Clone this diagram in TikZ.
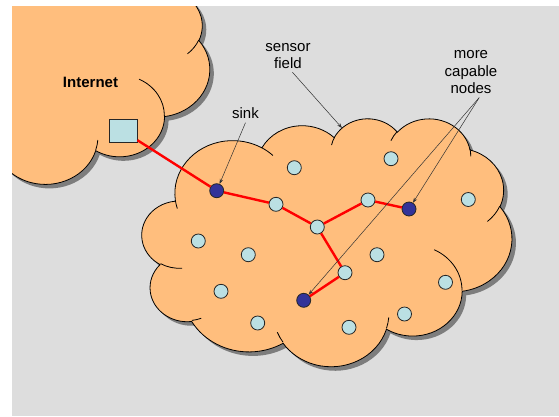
\documentclass[tikz,border=0pt]{standalone}
\usepackage{fontspec}
\setmainfont{Liberation Sans}
\usetikzlibrary{shapes,arrows.meta,positioning}
\definecolor{bggray}{RGB}{221,221,221}
\definecolor{cloudfill}{RGB}{255,190,125}
\definecolor{nodefill}{RGB}{187,224,227}
\definecolor{capfill}{RGB}{51,51,153}
\definecolor{shadowgray}{RGB}{125,125,125}
\tikzstyle{sensor} = [draw=black!85,circle,fill=nodefill,inner sep=0,minimum size=14pt,line width=0.8pt]
\tikzstyle{capable} = [sensor,fill=capfill]
\tikzstyle{gateway} = [draw=black!85,rectangle,fill=nodefill,inner sep=0,minimum width=28pt,minimum height=23pt,line width=0.8pt]
\tikzstyle{route} = [-,red,line width=2.4pt]
\tikzstyle{callout} = [-{Stealth[length=5pt,width=3.5pt]},line width=0.5pt,black!80]
\tikzstyle{note} = [font=\fontsize{15}{17.5}\selectfont,align=center]
\tikzstyle{cloud body} = [fill=cloudfill,draw=black,line width=0.8pt]
\tikzstyle{cloud shadow} = [fill=shadowgray,shift={(4pt,-4pt)}]

% one arc of the cloud outline, angles as seen on the page
\newcommand{\oarc}[4]{arc[start angle={atan2((#1)*sin(#3),(#2)*cos(#3))},
  delta angle={mod(atan2((#1)*sin((#3)+(#4)),(#2)*cos((#3)+(#4)))-atan2((#1)*sin(#3),(#2)*cos(#3))+720,360)},
  x radius=#1,y radius=#2]}
\newcommand{\cloudoutline}{(3900,14370)
  \oarc{6753}{9190}{-190.48748}{123.78053}
  \oarc{5333}{7267}{-144.10238}{89.94523}
  \oarc{4365}{5945}{-145.80792}{99.72302}
  \oarc{4857}{6595}{-130.98607}{117.24173}
  \oarc{5333}{7273}{-78.70888}{109.02692}
  \oarc{6775}{9220}{-46.26725}{130.269}
  \oarc{5785}{7867}{0.62502}{114.03333}
  \oarc{6752}{9215}{22.4516}{115.17255}
  \oarc{7720}{10543}{66.24263}{75.71102}
  \oarc{4360}{5918}{-274.94208}{146.73557}
  \oarc{4345}{5945}{-246.8285}{152.51885} -- cycle}
\newcommand{\cloudstubs}{
  (4693,26177) \oarc{4345}{5945}{86.742}{26.4295}
  (6928,34899) \oarc{4360}{5918}{73.61047}{11.44747}
  (16478,39090) \oarc{6752}{9215}{137.62415}{14.0811}
  (28827,34751) \oarc{6752}{9215}{6.45327}{15.99835}
  (34129,22954) \oarc{5785}{7867}{-70.29235}{70.91737}
  (41798,15354) \oarc{5333}{7273}{30.31803}{27.7515}
  (38324,5426) \oarc{4857}{6595}{-13.74433}{14.8589}
  (29078,3952) \oarc{4857}{6595}{-149.18145}{18.19537}
  (22141,4720) \oarc{4365}{5945}{-163.49427}{17.68635}
  (14000,5192) \oarc{6753}{9190}{-66.70695}{12.31935}
  (4127,15789) \oarc{6753}{9190}{157.65435}{11.85817}}

\begin{document}
\begin{tikzpicture}[x=1pt,y=-1pt]
  \useasboundingbox (0,0) rectangle (559,416);
  \fill[white] (0,0) rectangle (559,416);
  \begin{scope}
    \clip (12,6) rectangle (559,416);
    \fill[bggray] (12,6) rectangle (559,416);
    % internet cloud
    \begin{scope}[shift={(-126.5,-39.2)},x=0.007787pt,y=-0.0051551pt]
      \fill[cloud shadow] \cloudoutline;
      \path[cloud body] \cloudoutline;
      \draw[line width=0.8pt] \cloudstubs;
    \end{scope}
    % sensor field cloud
    \begin{scope}[shift={(142,118)},x=0.0085648pt,y=-0.0057407pt]
      \fill[cloud shadow] \cloudoutline;
      \path[cloud body] \cloudoutline;
      \draw[line width=0.8pt] \cloudstubs;
    \end{scope}
  \end{scope}

  \node[gateway] (gw) at (123,131) {};
  \node[capable] (sink) at (216.7,190.7) {};
  \node[capable] (cap1) at (409,209) {};
  \node[capable] (cap2) at (303.7,300.3) {};
  \node[sensor] (s1) at (294.3,167.7) {};
  \node[sensor] (s2) at (391,158.7) {};
  \node[sensor] (s3) at (276,204.3) {};
  \node[sensor] (s4) at (317.3,227) {};
  \node[sensor] (s5) at (368,200) {};
  \node[sensor] (s6) at (198.3,241) {};
  \node[sensor] (s7) at (248.3,254.7) {};
  \node[sensor] (s8) at (377,254.7) {};
  \node[sensor] (s9) at (345,272.7) {};
  \node[sensor] (s10) at (221,291.3) {};
  \node[sensor] (s11) at (257.7,323) {};
  \node[sensor] (s12) at (349,327.3) {};
  \node[sensor] (s13) at (404.5,314) {};
  \node[sensor] (s14) at (445.5,282.3) {};
  \node[sensor] (s15) at (468.3,199.5) {};

  \draw[route] (gw) -- (sink) -- (s3) -- (s4) -- (s5) -- (cap1);
  \draw[route] (s4) -- (s9) -- (cap2);

  \node[note] (inetlbl) at (90.5,82) {\textbf{Internet}};
  \node[note] (sinklbl) at (245.5,113.6) {sink};
  \node[note] (fieldlbl) at (288,55.8) {sensor\\field};
  \node[note] (morelbl) at (471,72.5) {more\\capable\\nodes};
  \coordinate (fieldtip) at (342,128);

  \draw[callout] (sinklbl.south) -- (sink);
  \draw[callout] (fieldlbl.-75) -- (fieldtip);
  \draw[callout] (morelbl.-72) -- (cap1);
  \draw[callout] (morelbl.-72) -- (cap2);
\end{tikzpicture}
\end{document}
